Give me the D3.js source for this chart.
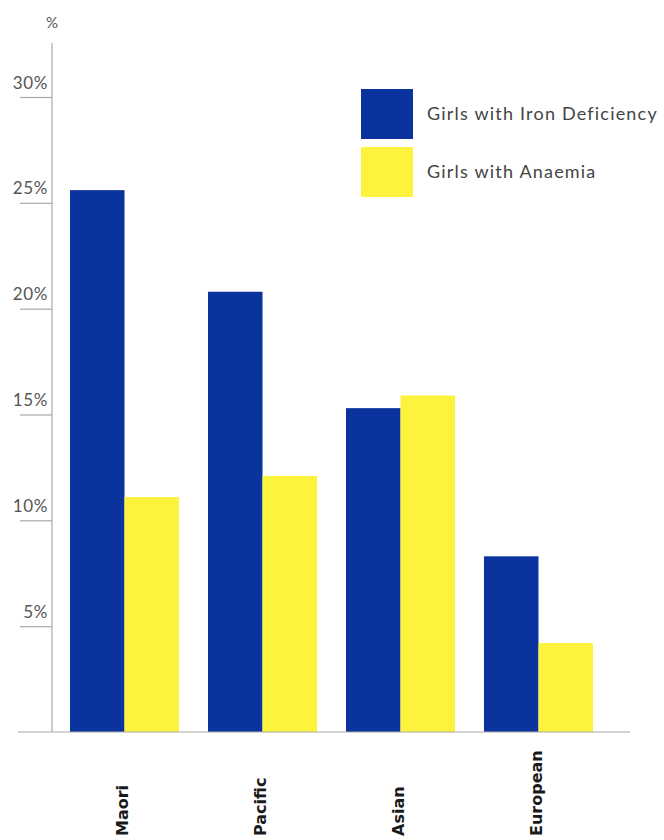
<!DOCTYPE html>
<html>
<head>
<meta charset="utf-8">
<script src="https://cdn.jsdelivr.net/npm/d3@7"></script>
<style>
  html, body { margin: 0; padding: 0; background: #ffffff; }
  svg { display: block; }
</style>
</head>
<body>
<svg id="chart" width="664" height="840"></svg>
<script>
// Share of girls (%) by ethnic group
const categories = ["Maori", "Pacific", "Asian", "European"];
const ironDeficiency = [25.6, 20.8, 15.3, 8.3];
const anaemia = [11.1, 12.1, 15.9, 4.2];
const seriesNames = ["Girls with Iron Deficiency", "Girls with Anaemia"];
const tickValues = [5, 10, 15, 20, 25, 30];
const tickLabels = ["5%", "10%", "15%", "20%", "25%", "30%"];

const colors = ["#0b339d", "#fdf23c"];
const axisColor = "#a9a9a9";
const textColor = "#555555";

const svg = d3.select("#chart");

const yAxisX = 52, baseY = 732, topY = 97;

const x = d3.scaleBand()
  .domain(categories)
  .range([70, 593])
  .paddingInner(0.21)
  .paddingOuter(0);

const xSub = d3.scaleBand()
  .domain(seriesNames)
  .range([0, x.bandwidth()])
  .padding(0);

const y = d3.scaleLinear()
  .domain([0, 30])
  .range([baseY, topY]);

const rows = categories.map((c, i) => ({
  category: c,
  values: [ironDeficiency[i], anaemia[i]]
}));

// Bars
const groups = svg.append("g")
  .selectAll("g")
  .data(rows)
  .join("g")
  .attr("transform", d => `translate(${x(d.category)},0)`);

groups.selectAll("rect")
  .data(d => d.values.map((v, k) => ({ series: seriesNames[k], value: v, k })))
  .join("rect")
  .attr("x", d => xSub(d.series))
  .attr("width", xSub.bandwidth())
  .attr("y", d => y(d.value))
  .attr("height", d => baseY - y(d.value))
  .attr("fill", d => colors[d.k]);

// Y axis with long left ticks and labels sitting above each tick
const yAxis = d3.axisLeft(y)
  .tickValues(tickValues)
  .tickFormat((d, i) => tickLabels[i])
  .tickSize(32)
  .tickSizeOuter(0);

const yg = svg.append("g")
  .attr("transform", `translate(${yAxisX},0)`)
  .call(yAxis);

yg.select(".domain").remove();
yg.selectAll(".tick line").attr("stroke", axisColor).attr("stroke-width", 1.2);
yg.selectAll(".tick text")
  .attr("x", -4)
  .attr("dy", "-9px")
  .attr("fill", textColor)
  .attr("font-family", "Lato, sans-serif")
  .attr("font-size", 17)
  .attr("letter-spacing", "0.6px")
  .attr("text-anchor", "end");

// Vertical axis line
svg.append("line")
  .attr("x1", yAxisX).attr("x2", yAxisX)
  .attr("y1", 43).attr("y2", baseY)
  .attr("stroke", axisColor).attr("stroke-width", 1.2);

// Unit label
svg.append("text")
  .attr("x", yAxisX)
  .attr("y", 28)
  .attr("text-anchor", "middle")
  .attr("fill", textColor)
  .attr("font-family", "Lato, sans-serif")
  .attr("font-size", 15)
  .text("%");

// X axis baseline with rotated category labels
const xAxis = d3.axisBottom(x).tickSize(0).tickSizeOuter(0);
const xg = svg.append("g")
  .attr("transform", `translate(0,${baseY})`)
  .call(xAxis);
xg.select(".domain").remove();
xg.append("line")
  .attr("x1", 18).attr("x2", 630)
  .attr("y1", 0).attr("y2", 0)
  .attr("stroke", axisColor).attr("stroke-width", 1.2);

xg.selectAll(".tick text")
  .attr("transform", "translate(-2,104) rotate(-90)")
  .attr("x", 0)
  .attr("y", 0)
  .attr("dy", "0.35em")
  .attr("text-anchor", "start")
  .attr("fill", "#1a1a1a")
  .attr("font-family", "'DejaVu Sans', sans-serif")
  .attr("font-weight", "bold")
  .attr("font-size", 16);

// Legend
const legend = svg.append("g");
const legendItems = legend.selectAll("g")
  .data(seriesNames)
  .join("g")
  .attr("transform", (d, i) => `translate(361,${89 + i * 58})`);

legendItems.append("rect")
  .attr("width", 52)
  .attr("height", 50)
  .attr("fill", (d, i) => colors[i]);

legendItems.append("text")
  .attr("x", 66)
  .attr("y", 25)
  .attr("dy", "0.35em")
  .attr("fill", "#444444")
  .attr("font-family", "Lato, sans-serif")
  .attr("font-size", 18)
  .attr("letter-spacing", "1.2px")
  .text(d => d);
</script>
</body>
</html>
